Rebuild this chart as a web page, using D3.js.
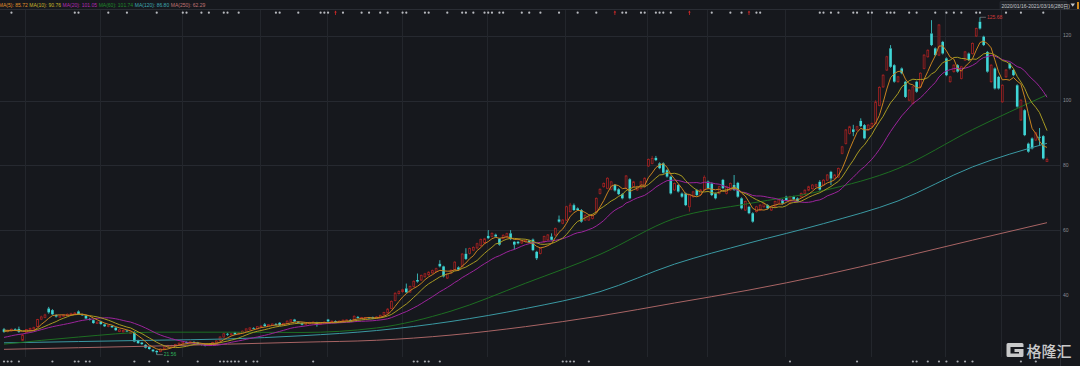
<!DOCTYPE html>
<html><head><meta charset="utf-8">
<script src="https://cdn.jsdelivr.net/npm/d3@7"></script>
<style>html,body{margin:0;padding:0;background:#16181d;overflow:hidden}</style>
</head><body><svg id="c" width="1080" height="366"></svg>
<script>
// [open, close, high, low] per trading day (281 days)
const ohlc = [
[29.4,28.6,29.8,28.3],[28.7,29.0,29.3,28.4],[28.9,29.4,29.6,28.7],[29.4,29.1,29.7,28.9],[29.5,28.6,30.2,28.3],
[26.0,27.6,28.0,25.8],[28.4,29.3,29.5,28.2],[29.2,29.6,29.9,29.0],[29.5,29.9,30.2,29.3],[30.2,32.4,32.6,30.0],
[32.5,33.2,33.6,32.2],[33.0,33.8,34.2,32.8],[35.8,34.6,36.3,34.2],[35.3,34.0,35.6,33.8],[33.8,33.3,34.0,33.0],
[33.1,33.5,33.8,32.9],[33.4,33.8,34.0,33.2],[33.6,34.0,34.3,33.4],[33.9,34.2,34.5,33.7],[34.1,34.4,34.7,33.9],
[34.9,34.1,35.2,33.9],[34.0,33.7,34.2,33.5],[33.6,32.7,33.8,32.5],[32.6,32.4,32.9,32.1],[32.2,31.3,32.4,31.1],
[31.2,31.6,31.8,31.0],[31.8,31.0,32.0,30.8],[30.9,30.3,31.1,30.1],[30.3,30.5,30.8,30.0],[30.4,30.0,30.6,29.8],
[29.9,29.1,30.1,28.9],[28.7,29.2,29.4,28.5],[28.6,29.0,29.3,28.4],[29.0,28.7,29.2,28.5],[28.1,28.6,28.9,27.9],
[28.6,25.6,28.8,25.4],[25.9,25.1,26.2,24.9],[25.3,24.8,25.5,24.6],[24.6,23.7,24.8,23.5],[23.9,23.3,24.1,23.1],
[23.1,22.6,23.3,22.3],[22.7,22.3,22.9,21.56],[22.5,23.3,23.5,22.3],[23.4,24.0,24.2,23.2],[23.9,24.4,24.6,23.7],
[24.2,24.3,24.6,24.0],[24.4,24.7,24.9,24.2],[24.7,25.1,25.3,24.5],[25.0,25.4,25.6,24.8],[25.4,25.2,25.6,25.0],
[25.2,25.5,25.7,25.0],[25.5,25.2,25.7,25.0],[25.3,24.8,25.5,24.6],[24.8,24.6,25.0,24.4],[24.8,24.3,24.9,24.1],
[24.4,24.8,25.0,24.2],[24.9,25.3,25.5,24.7],[25.3,25.8,26.0,25.1],[25.9,27.0,27.2,25.7],[27.0,28.0,28.3,26.8],
[28.0,27.7,28.3,27.4],[27.7,28.0,28.2,27.4],[28.4,27.8,28.6,27.6],[27.9,28.3,28.5,27.7],[28.3,28.8,29.0,28.1],
[28.8,29.5,29.7,28.6],[29.3,29.8,30.0,29.1],[29.8,29.6,30.0,29.4],[29.5,30.2,30.4,29.3],[30.2,30.4,30.6,30.0],
[30.9,30.4,31.3,30.2],[30.5,30.8,31.0,30.3],
[30.6,31.0,31.2,30.4],[31.0,30.8,31.3,30.6],[31.4,30.6,31.6,30.4],[30.7,31.2,31.4,30.5],[31.2,31.9,32.1,31.0],
[31.8,32.3,32.5,31.6],[32.4,31.8,32.6,31.6],[31.7,31.4,31.9,31.2],[31.3,30.8,31.5,30.6],[30.9,31.2,31.4,30.7],
[31.1,31.5,31.7,30.9],[31.4,31.6,31.8,31.2],[31.5,30.9,31.7,30.2],[31.0,31.4,31.6,30.8],[31.3,31.6,31.8,31.1],
[32.4,31.8,32.6,31.6],[31.8,31.9,32.1,31.6],[31.9,31.5,32.1,31.3],[31.5,31.9,32.1,31.3],[31.8,32.2,32.4,31.6],
[32.1,32.3,32.5,31.9],[32.3,32.0,32.5,31.8],[32.1,33.4,33.7,31.9],[33.2,32.9,33.5,32.7],[32.9,33.0,33.2,32.7],
[32.8,33.0,33.2,32.6],[33.0,32.9,33.2,32.7],[33.1,32.7,33.3,32.5],[32.8,33.2,33.4,32.6],[33.1,33.7,33.9,32.9],
[33.8,34.6,34.8,33.6],[34.4,35.6,35.9,34.2],[35.8,38.0,38.3,35.6],[38.3,40.5,40.8,38.0],[40.4,41.0,41.4,40.1],
[41.0,41.6,41.9,40.7],[42.0,40.8,43.5,40.5],[40.9,42.6,42.9,40.6],[42.6,44.2,44.5,42.3],[44.6,44.1,46.6,43.8],
[44.6,46.0,46.3,44.3],[45.6,46.5,46.8,45.3],[46.2,47.0,47.3,45.9],[46.8,47.5,47.8,46.5],[47.2,48.1,48.4,46.9],
[49.6,48.8,50.7,48.5],[48.8,45.7,49.0,45.4],[45.2,46.5,46.8,44.9],[46.7,47.6,47.9,46.4],[47.8,50.1,50.4,47.5],
[48.5,47.8,48.8,47.5],[48.8,52.6,52.9,48.5],[52.7,51.1,54.4,50.8],[52.8,54.3,54.6,52.5],[53.8,54.6,55.0,53.5],
[54.5,55.8,56.1,54.2],[55.2,57.1,57.4,54.9],[56.0,57.3,57.6,55.7],[58.2,57.5,60.0,57.2],[58.0,59.0,59.3,57.7],
[58.6,58.0,58.9,57.7],[57.4,55.5,57.6,55.2],[57.4,58.4,58.7,57.1],[57.8,58.9,59.2,57.5],[59.0,57.2,60.0,56.9],
[56.4,55.5,56.6,54.0],[56.4,55.9,56.7,55.6],[56.0,56.6,56.9,55.7],[56.5,56.8,57.1,56.2],[56.8,56.3,57.0,56.0],
[57.1,53.8,57.4,53.5],[53.3,51.3,53.6,50.8],[52.8,54.4,54.7,52.5],[56.4,58.0,58.3,56.1],[57.0,58.5,58.8,56.7],
[58.0,57.0,59.0,56.8],[58.5,60.5,60.8,58.2],[63.3,62.6,64.5,62.3],[62.1,63.1,63.4,61.8],[63.1,67.2,67.5,62.8],
[65.7,67.7,68.4,65.4],[67.7,66.2,68.2,65.9],[66.7,66.2,67.0,65.9],[66.2,62.6,66.5,62.3],[63.1,64.6,64.9,62.8],
[63.1,64.1,64.4,62.8],[63.6,64.6,64.9,63.3],[65.7,69.8,70.1,65.4],[71.3,72.6,72.9,71.0],[73.4,74.4,74.7,73.1],
[72.9,76.0,76.3,72.6],[72.6,74.9,75.2,72.3],[73.9,72.2,74.2,71.9],[72.6,71.1,72.9,70.8],[71.1,69.8,71.4,69.5],
[72.9,76.7,77.0,72.6],[75.7,69.8,76.0,69.5],[73.4,74.9,75.2,73.1],[72.4,73.4,73.7,72.1],[72.9,74.9,75.2,72.6],
[73.4,76.0,76.3,73.1],[79.8,81.8,82.1,79.5],[80.6,82.1,82.9,80.3],[82.3,81.6,82.9,81.3],[80.6,79.1,80.9,78.8],
[80.6,77.7,80.9,77.4],[78.5,76.5,78.8,76.2],[76.5,71.3,76.8,71.0],[72.4,74.4,74.7,72.1],[73.9,71.9,74.2,71.6],
[71.3,70.3,71.6,70.0],[71.3,67.7,71.6,67.4],[67.2,70.8,71.1,65.7],[70.3,71.8,72.1,70.0],[72.4,70.8,72.7,70.5],
[71.0,72.4,72.7,70.7],[72.4,76.3,76.9,72.1],[75.0,72.9,75.3,72.6],[74.4,70.8,74.7,70.5],[71.3,69.8,71.6,69.5],
[71.3,73.4,73.7,71.0],[75.5,72.9,75.8,72.6],[71.3,73.4,73.7,71.0],[72.4,74.4,74.7,72.1],[73.9,72.4,77.0,72.1],
[74.6,70.3,74.9,70.0],[69.8,66.7,70.1,66.4],[66.2,68.8,69.1,65.9],[67.2,65.2,67.5,64.9],[65.2,62.6,65.5,62.3],
[65.7,67.2,67.5,65.4],[66.2,67.7,68.0,65.9],[67.2,68.2,68.5,66.9],[67.7,66.7,68.0,66.4],[66.2,67.2,67.5,65.9],
[67.2,68.8,69.1,66.9],[68.3,69.3,69.6,68.0],[69.3,68.2,69.6,67.9],[70.3,69.2,70.6,68.9],[68.2,70.3,70.6,67.9],
[70.3,69.5,70.6,69.2],
[69.8,68.9,70.1,68.6],[70.3,71.3,71.6,70.0],[71.3,72.3,72.6,71.0],[72.3,73.4,73.7,72.0],[72.8,73.9,74.2,72.5],
[73.5,74.0,74.3,73.2],[74.9,72.5,75.4,72.2],[73.9,75.4,75.7,73.6],[75.4,77.0,77.3,75.1],[78.0,75.9,78.3,73.9],
[75.9,77.0,77.3,75.6],[76.4,79.0,79.3,76.1],[83.7,85.7,86.0,83.4],[86.7,90.9,91.2,86.4],[89.8,91.9,92.2,89.5],
[91.1,90.3,92.5,89.0],[90.9,91.9,92.2,90.6],[93.7,92.1,94.5,91.8],[92.4,88.3,92.7,88.0],
[90.9,92.4,92.7,90.6],[91.9,92.9,93.2,91.6],[92.9,99.5,100.1,92.6],[98.5,104.0,104.4,98.2],[104.2,107.8,108.1,103.9],
[109.4,113.5,113.8,109.1],[116.1,110.4,117.1,110.1],[110.9,105.8,111.2,105.5],[105.8,107.3,107.6,105.5],[109.9,108.4,110.2,108.1],
[105.8,101.1,106.1,100.8],[100.1,103.2,103.5,99.8],[99.1,104.2,104.5,98.8],[105.8,102.7,106.1,102.4],[104.2,108.4,108.7,103.9],
[109.9,114.0,114.3,109.6],[113.5,115.5,115.8,113.2],[120.7,117.1,124.8,116.8],[116.1,114.0,116.4,113.7],[114.0,123.3,123.6,113.7],
[118.1,114.5,118.4,114.2],[113.0,107.8,113.3,107.5],[105.8,107.3,107.6,105.5],[108.9,110.9,111.2,108.6],[110.9,108.9,111.2,108.6],
[106.8,110.4,110.7,106.5],[112.5,115.0,115.3,112.2],[114.5,112.5,114.8,112.2],[114.5,117.6,117.9,114.2],[119.9,122.2,122.5,119.6],
[124.3,122.2,125.68,121.9],[119.7,117.1,120.0,116.8],[115.0,108.9,115.3,108.6],[105.8,110.9,111.2,105.5],[109.9,103.7,110.2,103.4],
[107.3,103.7,107.6,103.4],[99.6,104.7,105.0,99.3],[107.3,109.4,109.7,107.0],[111.4,109.9,111.7,109.6],[109.4,107.8,109.7,107.5],
[104.7,98.1,105.0,97.8],[94.0,100.1,100.4,93.7],[97.0,89.3,97.3,89.0],[86.7,84.2,87.0,83.9],[88.3,85.2,88.6,84.9],
[87.8,90.0,90.3,87.5],[88.8,88.5,91.5,86.0],[89.0,82.1,89.3,81.8],[81.2,81.8,82.4,81.0]
];
// closes of the 20 sessions before the window (for the short moving averages)
const preCloses = [24.0,24.3,24.1,24.6,24.8,24.5,25.0,25.3,25.1,25.6,27.2,27.8,28.0,28.5,28.3,29.0,29.4,29.2,29.5,28.9];
// long moving averages every 20 sessions
const maSampleIdx = [0,20,40,60,80,100,120,140,160,180,200,220,240,260,280];
const ma60Read  = [24.8,27.0,28.5,28.5,28.4,29.8,35.0,43.6,52.5,63.6,68.2,72.2,79.0,91.0,101.74];
const ma120Read = [25.2,25.6,26.0,26.4,27.4,29.0,31.8,35.8,41.0,49.5,56.0,62.0,69.0,79.5,86.80];
const ma250Read = [23.2,23.7,24.2,24.8,25.4,26.0,27.6,30.2,33.5,37.5,41.5,46.1,51.4,56.9,62.29];
const maNames  = ["MA(5)","MA(10)","MA(20)","MA(60)","MA(120)","MA(250)"];
const maValues = ["85.72","90.76","101.05","101.74","86.80","62.29"];
const monthStarts = [6,26,48,69,87,107,130,151,173,189,210,233,253,268];
const yTicks = [40,60,80,100,120];
const dateRange = "2020/01/16-2021/03/16(280日)";
const topEvents = [2,19,20,28,33,41,48,49,53,55,59,60,63,73,74,79,85,86,87,91,96,98,101,103,107,108,113,114,119,123,124,126,129,130,131,133,134,139,141,144,149,154,159,166,167,171,172,175,176,177,179,190,195,198,202,203,219,220,222,224,228,229,232,233,237,238,239,243,245,250,253,255,257,261,262,269,273,279];
const topArrows = [89,164,184,200];
const bottomEvents = [0,1,2,4,13,19,20,22,23,35,39,44,52,58,59,60,61,62,63,65,67,68,83,110,111,113,114,117,150,151,152,153,157,211,229,244,245,248,251,253,256,258,260,273,277];
const watermark = "格隆汇";

// ---------------- drawing ----------------
const svg = d3.select("#c");
const W = 1080, H = 366;
const BG = "#16181d";
const colMA = ["#e0922a","#c9b62a","#b42ab4","#1f8a2a","#3fa9b4","#c07474"];
const colMALine = ["#c98320","#a89a22","#9c249c","#1d6e22","#3a98a2","#a86464"];
const UP = "#a82222", DOWN = "#3fd6d6";

svg.append("rect").attr("width",W).attr("height",H).attr("fill",BG);

const x = d3.scaleLinear().domain([0, ohlc.length-1]).range([4, 1047]);
const y = d3.scaleLinear().domain([40,120]).range([294.9, 35.7]);

const grid = svg.append("g");
// horizontal grid
grid.selectAll("line.h").data(yTicks).join("line")
  .attr("x1",0).attr("x2",1060.5).attr("y1",d=>Math.round(y(d))+0.5).attr("y2",d=>Math.round(y(d))+0.5)
  .attr("stroke","#262930").attr("stroke-width",1);
// month grid
grid.selectAll("line.v").data(monthStarts).join("line")
  .attr("x1",d=>Math.round(x(d)-1)+0.5).attr("x2",d=>Math.round(x(d)-1)+0.5)
  .attr("y1",10).attr("y2",357)
  .attr("stroke","#23262c").attr("stroke-width",1);
// right axis separator
svg.append("line").attr("x1",1060.5).attr("x2",1060.5).attr("y1",10).attr("y2",H)
  .attr("stroke","#2a2d34");
// top separator
svg.append("line").attr("x1",0).attr("x2",W).attr("y1",9.5).attr("y2",9.5).attr("stroke","#2a2d34");

// y labels
svg.append("g").selectAll("text").data(yTicks).join("text")
  .attr("x",1063).attr("y",d=>y(d)).attr("dy","0.35em")
  .attr("font-family","Liberation Sans, Arial, sans-serif").attr("font-size",5)
  .attr("fill","#8a8d94").text(d=>d);

// candles
const cw = 2.6;
const cg = svg.append("g");
ohlc.forEach((d,i)=>{
  const [o,c,h,l] = d;
  const up = c >= o;
  const cx = x(i);
  const top = y(Math.max(o,c)), bot = y(Math.min(o,c));
  const col = up ? UP : DOWN;
  cg.append("line").attr("x1",cx).attr("x2",cx).attr("y1",y(h)).attr("y2",top).attr("stroke",col).attr("stroke-width",0.8);
  cg.append("line").attr("x1",cx).attr("x2",cx).attr("y1",bot).attr("y2",y(l)).attr("stroke",col).attr("stroke-width",0.8);
  if (up) {
    cg.append("rect").attr("x",cx-cw/2+0.4).attr("y",top).attr("width",cw-0.8).attr("height",Math.max(0.6,bot-top))
      .attr("fill",BG).attr("stroke",col).attr("stroke-width",0.8);
  } else {
    cg.append("rect").attr("x",cx-cw/2).attr("y",top).attr("width",cw).attr("height",Math.max(0.8,bot-top))
      .attr("fill",col);
  }
});

// moving averages
const closes = ohlc.map(d=>d[1]);
const all = preCloses.concat(closes);
function ma(n){
  return closes.map((_,i)=>{
    const end = i + preCloses.length;
    const s = all.slice(Math.max(0,end-n+1), end+1);
    return d3.mean(s);
  });
}
const line = d3.line().x(d=>x(d[0])).y(d=>y(d[1]));
const shortMA = [ma(5), ma(10), ma(20)];
const lg = svg.append("g").attr("fill","none").attr("stroke-width",1);
// long MAs first (behind)
[[ma250Read,5],[ma120Read,4],[ma60Read,3]].forEach(([arr,k])=>{
  lg.append("path").attr("d", line.curve(d3.curveMonotoneX)(arr.map((v,j)=>[maSampleIdx[j],v])))
    .attr("stroke",colMALine[k]);
});
[2,1,0].forEach(k=>{
  lg.append("path").attr("d", line.curve(d3.curveLinear)(shortMA[k].map((v,i)=>[i,v])))
    .attr("stroke",colMALine[k]);
});

// high / low markers
const hiI = d3.maxIndex(ohlc, d=>d[2]), loI = d3.minIndex(ohlc, d=>d[3]);
const hx = x(hiI), hy = y(ohlc[hiI][2]);
svg.append("line").attr("x1",hx).attr("x2",hx+6).attr("y1",hy).attr("y2",hy).attr("stroke","#9a9a9a").attr("stroke-width",0.6);
svg.append("text").attr("x",hx+7).attr("y",hy).attr("dy","0.35em").attr("font-size",5)
  .attr("font-family","Liberation Sans, Arial, sans-serif").attr("fill","#d23a3a").text(ohlc[hiI][2].toFixed(2));
const lx = x(loI), ly = y(ohlc[loI][3]);
svg.append("line").attr("x1",lx).attr("x2",lx+6).attr("y1",ly).attr("y2",ly).attr("stroke","#9a9a9a").attr("stroke-width",0.6);
svg.append("text").attr("x",lx+7).attr("y",ly).attr("dy","0.35em").attr("font-size",5)
  .attr("font-family","Liberation Sans, Arial, sans-serif").attr("fill","#2fb35a").text(ohlc[loI][3].toFixed(2));

// event markers
svg.append("g").selectAll("circle").data(topEvents).join("circle")
  .attr("cx",d=>x(d)).attr("cy",12.7).attr("r",1.1).attr("fill","#b9bbc0");
svg.append("g").selectAll("path").data(topArrows).join("path")
  .attr("d",d=>{const cx=x(d);return `M${cx},10.5 L${cx-1.3},12.5 L${cx-0.4},12.5 L${cx-0.4},15 L${cx+0.4},15 L${cx+0.4},12.5 L${cx+1.3},12.5 Z`;})
  .attr("fill","#d02828");
svg.append("g").selectAll("circle").data(bottomEvents).join("circle")
  .attr("cx",d=>x(d)).attr("cy",361.5).attr("r",1.1).attr("fill","#a9abb0");

// legend
const leg = svg.append("g").attr("font-family","Liberation Sans, Arial, sans-serif").attr("font-size",5);
let lx0 = -1.2;
maNames.forEach((n,k)=>{
  const t = leg.append("text").attr("x",lx0).attr("y",7.2).attr("fill",colMA[k]).text(n+": "+maValues[k]);
  lx0 += t.node().getComputedTextLength() + 1.6;
});

// date range box
svg.append("rect").attr("x",1000).attr("y",1.5).attr("width",67).attr("height",8).attr("rx",1)
  .attr("fill","#1f2227").attr("stroke","#2e3138").attr("stroke-width",0.6);
svg.append("text").attr("x",1001.5).attr("y",7.6).attr("font-size",5)
  .attr("font-family","Liberation Sans, Noto Sans CJK SC, sans-serif").attr("fill","#c4c6cb").text(dateRange);
svg.append("path").attr("d","M1070.5,3.6 L1075,3.6 L1072.75,6.8 Z").attr("fill","#c4c6cb");
svg.append("rect").attr("x",1077).attr("y",2).attr("width",2).attr("height",7).attr("fill","#d08a1e");

// watermark
const wm = svg.append("g").attr("opacity",0.88);
wm.append("path").attr("d","M1008,343 h14 q1.5,0 1.5,1.5 v2.5 h-13 v6.5 h8.5 v-1.6 h-4.5 v-3 h9 v6.6 q0,1.5 -1.5,1.5 h-14 q-1.5,0 -1.5,-1.5 v-11 q0,-1.5 1.5,-1.5 z")
  .attr("fill","#e2e2e2");
wm.append("text").attr("x",1026.5).attr("y",356.5).attr("font-size",15)
  .attr("font-family","Noto Sans CJK SC, sans-serif").attr("font-weight",500).attr("fill","#e2e2e2").text(watermark);
</script></body></html>
